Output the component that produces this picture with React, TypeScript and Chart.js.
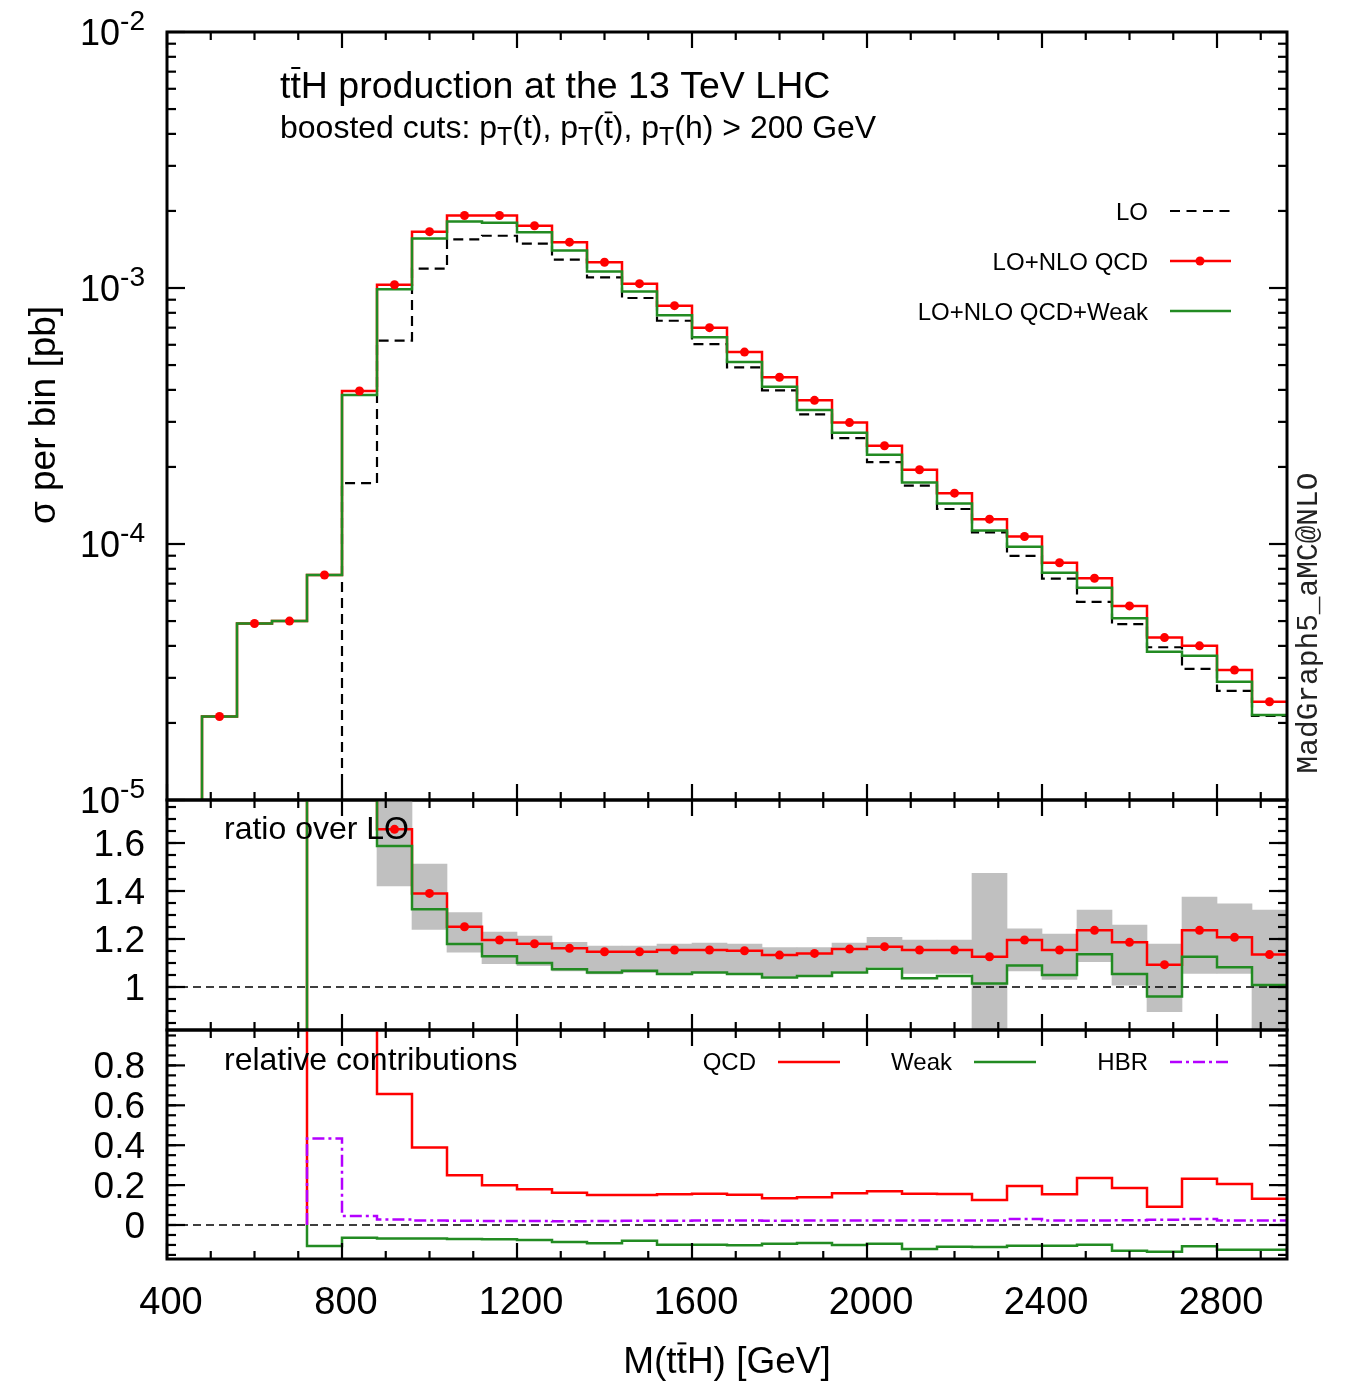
import React, { useEffect, useRef } from "react";
import { Chart, registerables } from "chart.js";

Chart.register(...registerables);

// ---------------- data ----------------
const BIN_EDGES = [480, 560, 640, 720, 800, 880, 960, 1040, 1120, 1200, 1280, 1360, 1440, 1520, 1600, 1680, 1760, 1840, 1920, 2000, 2080, 2160, 2240, 2320, 2400, 2480, 2560, 2640, 2720, 2800, 2880, 2960];

// sigma per bin [pb]
const SIGMA_LO = [null, null, null, null, 1.73e-4, 6.23e-4, 1.19e-3, 1.55e-3, 1.6e-3, 1.49e-3, 1.29e-3, 1.1e-3, 9.14e-4, 7.45e-4, 6.04e-4, 4.9e-4, 3.98e-4, 3.21e-4, 2.59e-4, 2.09e-4, 1.69e-4, 1.37e-4, 1.11e-4, 8.98e-5, 7.32e-5, 5.94e-5, 4.86e-5, 3.95e-5, 3.25e-5, 2.67e-5, 2.13e-5];
const SIGMA_QCD = [2.12e-5, 4.89e-5, 5.0e-5, 7.57e-5, 3.96e-4, 1.03e-3, 1.66e-3, 1.92e-3, 1.92e-3, 1.75e-3, 1.51e-3, 1.26e-3, 1.04e-3, 8.53e-4, 7.0e-4, 5.62e-4, 4.48e-4, 3.64e-4, 2.98e-4, 2.42e-4, 1.95e-4, 1.58e-4, 1.25e-4, 1.07e-4, 8.45e-5, 7.35e-5, 5.73e-5, 4.31e-5, 4.0e-5, 3.22e-5, 2.42e-5];
const SIGMA_QCD_WEAK = [2.12e-5, 4.89e-5, 5.0e-5, 7.57e-5, 3.82e-4, 9.89e-4, 1.56e-3, 1.82e-3, 1.8e-3, 1.65e-3, 1.4e-3, 1.16e-3, 9.7e-4, 7.82e-4, 6.42e-4, 5.14e-4, 4.11e-4, 3.34e-4, 2.72e-4, 2.23e-4, 1.74e-4, 1.44e-4, 1.13e-4, 9.76e-5, 7.72e-5, 6.75e-5, 5.13e-5, 3.79e-5, 3.66e-5, 2.9e-5, 2.15e-5];

// ratio over LO (LO vanishes below 800 GeV: ratio unbounded, shown off-scale)
const RATIO_QCD = [null, null, null, 1000, 2.29, 1.657, 1.39, 1.251, 1.196, 1.18, 1.161, 1.147, 1.147, 1.154, 1.154, 1.151, 1.133, 1.14, 1.158, 1.168, 1.154, 1.154, 1.126, 1.196, 1.154, 1.236, 1.186, 1.093, 1.236, 1.207, 1.135];
const RATIO_QCD_WEAK = [null, null, null, 1000, 2.21, 1.5875, 1.324, 1.179, 1.128, 1.1, 1.074, 1.06, 1.068, 1.054, 1.06, 1.054, 1.04, 1.046, 1.06, 1.076, 1.036, 1.046, 1.015, 1.09, 1.05, 1.136, 1.054, 0.96, 1.126, 1.082, 1.008];
const BAND_LOW = [null, null, null, null, null, 1.421, 1.24, 1.145, 1.097, 1.089, 1.067, 1.054, 1.06, 1.06, 1.064, 1.057, 1.046, 1.05, 1.067, 1.085, 1.057, 1.057, 0.7, 1.067, 1.032, 1.106, 1.008, 0.897, 1.057, 1.057, 0.75];
const BAND_HIGH = [null, null, null, null, null, 2.0, 1.5125, 1.31, 1.229, 1.2125, 1.186, 1.171, 1.171, 1.179, 1.183, 1.179, 1.164, 1.164, 1.183, 1.207, 1.196, 1.196, 1.474, 1.242, 1.221, 1.321, 1.258, 1.179, 1.375, 1.347, 1.321];

// relative contributions
const REL_QCD = [null, null, null, 1000, 1.29, 0.657, 0.389, 0.25, 0.199, 0.179, 0.162, 0.15, 0.15, 0.154, 0.157, 0.152, 0.134, 0.139, 0.159, 0.169, 0.157, 0.155, 0.125, 0.195, 0.154, 0.236, 0.185, 0.092, 0.232, 0.205, 0.132];
const REL_WEAK = [null, null, null, -0.105, -0.064, -0.068, -0.068, -0.07, -0.071, -0.075, -0.085, -0.092, -0.079, -0.099, -0.099, -0.102, -0.094, -0.09, -0.1, -0.094, -0.12, -0.109, -0.11, -0.104, -0.104, -0.099, -0.129, -0.134, -0.107, -0.124, -0.124];
const REL_HBR = [null, null, null, 0.434, 0.045, 0.028, 0.022, 0.021, 0.02, 0.02, 0.019, 0.02, 0.021, 0.021, 0.022, 0.022, 0.021, 0.022, 0.022, 0.023, 0.023, 0.022, 0.023, 0.03, 0.023, 0.022, 0.024, 0.026, 0.03, 0.022, 0.022];

// axes / ticks
const X_MIN = 400;
const X_MAX = 2960;
const X_TICKS = [400, 800, 1200, 1600, 2000, 2400, 2800];
const X_TICK_LABELS = ["400", "800", "1200", "1600", "2000", "2400", "2800"];
const X_MINOR_STEP = 100;
const TOP_Y_TICKS = [1e-5, 1e-4, 1e-3, 1e-2];
const TOP_Y_EXPONENTS = ["-5", "-4", "-3", "-2"];
const RATIO_TICKS = [1, 1.2, 1.4, 1.6];
const RATIO_TICK_LABELS = ["1", "1.2", "1.4", "1.6"];
const REL_TICKS = [0, 0.2, 0.4, 0.6, 0.8];
const REL_TICK_LABELS = ["0", "0.2", "0.4", "0.6", "0.8"];

// ---------------- layout / style ----------------
const W = 1345;
const H = 1384;
const PLOT_LEFT = 167;
const PLOT_RIGHT = 1287;
const PANEL_TOP = [32, 800, 1030];
const PANEL_BOTTOM = [800, 1030, 1259];
const FONT = '"Liberation Sans", Arial, Helvetica, sans-serif';
const MONO = '"Liberation Mono", "DejaVu Sans Mono", monospace';
const RED = "#ff0000";
const GREEN = "#228b22";
const VIOLET = "#b400ff";
const BAND = "#c0c0c0";
const LOG_FLOOR = 1e-9;

const CENTERS = BIN_EDGES.slice(0, -1).map((e, i) => (e + BIN_EDGES[i + 1]) / 2);

function stepPoints(values, base) {
  const first = values.findIndex((v) => v !== null);
  const pts = [{ x: BIN_EDGES[first], y: base }];
  for (let i = first; i < values.length; i++) pts.push({ x: BIN_EDGES[i], y: values[i] });
  pts.push({ x: BIN_EDGES[values.length], y: values[values.length - 1] });
  return pts;
}

function histLine(values, base, color, width, dash, order) {
  return {
    type: "line",
    data: stepPoints(values, base),
    borderColor: color,
    borderWidth: width,
    borderDash: dash,
    stepped: true,
    pointRadius: 0,
    fill: false,
    order,
  };
}

function dots(values, order) {
  const data = [];
  values.forEach((v, i) => {
    if (v !== null) data.push({ x: CENTERS[i], y: v });
  });
  return {
    type: "line",
    data,
    showLine: false,
    pointRadius: 4.5,
    pointBackgroundColor: RED,
    pointBorderWidth: 0,
    order,
  };
}

function refLine(y, order) {
  return {
    type: "line",
    data: [{ x: X_MIN, y }, { x: X_MAX, y }],
    borderColor: "#000",
    borderWidth: 1.5,
    borderDash: [8, 5],
    pointRadius: 0,
    order,
  };
}

type Seg = { t: string; sub?: boolean; sup?: boolean; bar?: boolean };

function drawRich(ctx, segs: Seg[], x, y, size, align, family = FONT) {
  const sizes = segs.map((s) => (s.sub || s.sup ? size * 0.78 : size));
  const widths = segs.map((s, i) => {
    ctx.font = `${sizes[i]}px ${family}`;
    return ctx.measureText(s.t).width;
  });
  const total = widths.reduce((a, b) => a + b, 0);
  let cx = align === "left" ? x : align === "right" ? x - total : x - total / 2;
  ctx.textAlign = "left";
  ctx.textBaseline = "alphabetic";
  segs.forEach((s, i) => {
    ctx.font = `${sizes[i]}px ${family}`;
    const dy = s.sub ? size * 0.22 : s.sup ? -size * 0.42 : 0;
    ctx.fillText(s.t, cx, y + dy);
    if (s.bar) {
      ctx.save();
      ctx.lineWidth = Math.max(1.5, size * 0.055);
      ctx.beginPath();
      const by = y + dy - sizes[i] * 0.8;
      ctx.moveTo(cx + widths[i] * 0.08, by);
      ctx.lineTo(cx + widths[i] * 0.95, by);
      ctx.stroke();
      ctx.restore();
    }
    cx += widths[i];
  });
}

function seg(ctx, x1, y1, x2, y2) {
  ctx.beginPath();
  ctx.moveTo(x1, y1);
  ctx.lineTo(x2, y2);
  ctx.stroke();
}

function drawFrame(chart, yMajor: number[], yMinor: number[]) {
  const { ctx, chartArea: a, scales } = chart;
  const xs = scales.x;
  const ys = scales.y;
  ctx.save();
  ctx.strokeStyle = "#000";
  ctx.lineWidth = 2.2;
  for (let v = X_MIN; v < X_MAX; v += X_MINOR_STEP) {
    const px = xs.getPixelForValue(v);
    const len = X_TICKS.includes(v) ? 16 : 8;
    seg(ctx, px, a.bottom, px, a.bottom - len);
    seg(ctx, px, a.top, px, a.top + len);
  }
  const yt = (vals, len) =>
    vals.forEach((v) => {
      const py = ys.getPixelForValue(v);
      if (py < a.top - 0.5 || py > a.bottom + 0.5) return;
      seg(ctx, a.left, py, a.left + len, py);
      seg(ctx, a.right, py, a.right - len, py);
    });
  yt(yMajor, 18);
  yt(yMinor, 9);
  ctx.lineWidth = 3;
  ctx.strokeRect(a.left, a.top, a.right - a.left, a.bottom - a.top);
  ctx.restore();
}

function baseOptions(panel, yScale) {
  return {
    responsive: false,
    animation: false,
    devicePixelRatio: 1,
    events: [],
    layout: {
      padding: {
        left: PLOT_LEFT,
        right: W - PLOT_RIGHT,
        top: PANEL_TOP[panel],
        bottom: H - PANEL_BOTTOM[panel],
      },
    },
    plugins: { legend: { display: false }, tooltip: { enabled: false }, title: { display: false } },
    scales: {
      x: { type: "linear", min: X_MIN, max: X_MAX, display: false, offset: false },
      y: { ...yScale, display: false },
    },
  };
}

const topPlugin = {
  id: "topDecor",
  afterDatasetsDraw(chart) {
    const { ctx, scales } = chart;
    const minor = [];
    for (let d = -5; d < -2; d++) for (let k = 2; k <= 9; k++) minor.push(k * Math.pow(10, d));
    drawFrame(chart, TOP_Y_TICKS, minor);
    ctx.save();
    ctx.fillStyle = "#000";
    ctx.strokeStyle = "#000";
    TOP_Y_TICKS.forEach((v, i) => {
      const py = scales.y.getPixelForValue(v);
      drawRich(ctx, [{ t: "10" }, { t: TOP_Y_EXPONENTS[i], sup: true }], 145, py + 13, 36, "right");
    });
    drawRich(ctx, [{ t: "t" }, { t: "t", bar: true }, { t: "H production at the 13 TeV LHC" }], 280, 98, 37.5, "left");
    drawRich(
      ctx,
      [
        { t: "boosted cuts: p" },
        { t: "T", sub: true },
        { t: "(t), p" },
        { t: "T", sub: true },
        { t: "(" },
        { t: "t", bar: true },
        { t: "), p" },
        { t: "T", sub: true },
        { t: "(h) > 200 GeV" },
      ],
      280,
      138,
      32,
      "left"
    );
    // legend
    const legend = [
      { label: "LO", y: 211, color: "#000", dash: [10, 6.5], dot: false, w: 2.2 },
      { label: "LO+NLO QCD", y: 261, color: RED, dash: [], dot: true, w: 2.5 },
      { label: "LO+NLO QCD+Weak", y: 311, color: GREEN, dash: [], dot: false, w: 2.5 },
    ];
    legend.forEach((l) => {
      ctx.fillStyle = "#000";
      drawRich(ctx, [{ t: l.label }], 1148, l.y + 8.5, 24, "right");
      ctx.save();
      ctx.strokeStyle = l.color;
      ctx.lineWidth = l.w;
      ctx.setLineDash(l.dash);
      seg(ctx, 1170, l.y, 1231, l.y);
      ctx.restore();
      if (l.dot) {
        ctx.fillStyle = RED;
        ctx.beginPath();
        ctx.arc(1200, l.y, 4.5, 0, Math.PI * 2);
        ctx.fill();
      }
    });
    // y title
    ctx.fillStyle = "#000";
    ctx.save();
    ctx.translate(42, 415);
    ctx.rotate(-Math.PI / 2);
    drawRich(ctx, [{ t: "σ per bin [pb]" }], 0, 13, 37, "center");
    ctx.restore();
    // generator tag
    ctx.save();
    ctx.translate(1317, 623);
    ctx.rotate(-Math.PI / 2);
    ctx.fillStyle = "#222";
    ctx.font = `29.5px ${MONO}`;
    ctx.textAlign = "center";
    ctx.textBaseline = "alphabetic";
    ctx.fillText("MadGraph5_aMC@NLO", 0, 0);
    ctx.restore();
    ctx.restore();
  },
};

const ratioPlugin = {
  id: "ratioDecor",
  afterDatasetsDraw(chart) {
    const { ctx, scales } = chart;
    const minor = [];
    for (let v = 0.85; v < 1.8; v += 0.05) minor.push(Math.round(v * 100) / 100);
    drawFrame(chart, RATIO_TICKS, minor);
    ctx.save();
    ctx.fillStyle = "#000";
    RATIO_TICKS.forEach((v, i) => {
      const py = scales.y.getPixelForValue(v);
      drawRich(ctx, [{ t: RATIO_TICK_LABELS[i] }], 145, py + 13, 37, "right");
    });
    drawRich(ctx, [{ t: "ratio over LO" }], 224, 839, 32, "left");
    ctx.restore();
  },
};

const relPlugin = {
  id: "relDecor",
  afterDatasetsDraw(chart) {
    const { ctx, scales } = chart;
    const minor = [];
    for (let v = -0.15; v < 1.0; v += 0.05) minor.push(Math.round(v * 100) / 100);
    drawFrame(chart, REL_TICKS, minor);
    ctx.save();
    ctx.fillStyle = "#000";
    ctx.strokeStyle = "#000";
    REL_TICKS.forEach((v, i) => {
      const py = scales.y.getPixelForValue(v);
      drawRich(ctx, [{ t: REL_TICK_LABELS[i] }], 145, py + 13, 37, "right");
    });
    X_TICKS.forEach((v, i) => {
      const px = scales.x.getPixelForValue(v);
      drawRich(ctx, [{ t: X_TICK_LABELS[i] }], px + 4, 1314, 38, "center");
    });
    drawRich(ctx, [{ t: "M(t" }, { t: "t", bar: true }, { t: "H) [GeV]" }], 727, 1373, 37, "center");
    drawRich(ctx, [{ t: "relative contributions" }], 224, 1070, 32, "left");
    const legend = [
      { label: "QCD", x: 756, color: RED, dash: [] },
      { label: "Weak", x: 952, color: GREEN, dash: [] },
      { label: "HBR", x: 1148, color: VIOLET, dash: [12, 4, 3, 4] },
    ];
    legend.forEach((l) => {
      ctx.fillStyle = "#000";
      drawRich(ctx, [{ t: l.label }], l.x, 1070, 24, "right");
      ctx.save();
      ctx.strokeStyle = l.color;
      ctx.lineWidth = 2.5;
      ctx.setLineDash(l.dash);
      seg(ctx, l.x + 22, 1062, l.x + 84, 1062);
      ctx.restore();
    });
    ctx.restore();
  },
};

function topConfig() {
  return {
    type: "line",
    data: {
      datasets: [
        dots(SIGMA_QCD, 0),
        histLine(SIGMA_QCD_WEAK, LOG_FLOOR, GREEN, 2.5, [], 1),
        histLine(SIGMA_QCD, LOG_FLOOR, RED, 2.5, [], 2),
        histLine(SIGMA_LO, LOG_FLOOR, "#000", 2.2, [10, 6], 3),
      ],
    },
    options: baseOptions(0, { type: "logarithmic", min: 1e-5, max: 1e-2 }),
    plugins: [topPlugin],
  };
}

function ratioConfig() {
  const band = [];
  BAND_LOW.forEach((lo, i) => {
    if (lo !== null) band.push({ x: CENTERS[i], y: [lo, BAND_HIGH[i]] });
  });
  return {
    type: "line",
    data: {
      datasets: [
        dots(RATIO_QCD, 0),
        histLine(RATIO_QCD_WEAK, 0, GREEN, 2.5, [], 1),
        histLine(RATIO_QCD, 0, RED, 2.5, [], 2),
        refLine(1, 3),
        {
          type: "bar",
          data: band,
          backgroundColor: BAND,
          borderWidth: 0,
          barPercentage: 1,
          categoryPercentage: 1,
          clip: 0,
          order: 4,
        },
      ],
    },
    options: baseOptions(1, { type: "linear", min: 1 - 43 / 240, max: 1 + 187 / 240 }),
    plugins: [ratioPlugin],
  };
}

function relConfig() {
  return {
    type: "line",
    data: {
      datasets: [
        histLine(REL_HBR, 0, VIOLET, 2.5, [12, 4, 3, 4], 1),
        histLine(REL_WEAK, 0, GREEN, 2.5, [], 2),
        histLine(REL_QCD, 0, RED, 2.5, [], 3),
        refLine(0, 4),
      ],
    },
    options: baseOptions(2, { type: "linear", min: -34 / 199.5, max: 195 / 199.5 }),
    plugins: [relPlugin],
  };
}

export default function App() {
  const r1 = useRef<HTMLCanvasElement>(null);
  const r2 = useRef<HTMLCanvasElement>(null);
  const r3 = useRef<HTMLCanvasElement>(null);
  useEffect(() => {
    const charts = [
      new Chart(r1.current, topConfig() as any),
      new Chart(r2.current, ratioConfig() as any),
      new Chart(r3.current, relConfig() as any),
    ];
    return () => charts.forEach((c) => c.destroy());
  }, []);
  const cs: React.CSSProperties = { position: "absolute", left: 0, top: 0, width: W, height: H };
  return (
    <div style={{ position: "absolute", left: 0, top: 0, width: W, height: H, background: "#fff" }}>
      <canvas ref={r1} width={W} height={H} style={cs} />
      <canvas ref={r2} width={W} height={H} style={cs} />
      <canvas ref={r3} width={W} height={H} style={cs} />
    </div>
  );
}
